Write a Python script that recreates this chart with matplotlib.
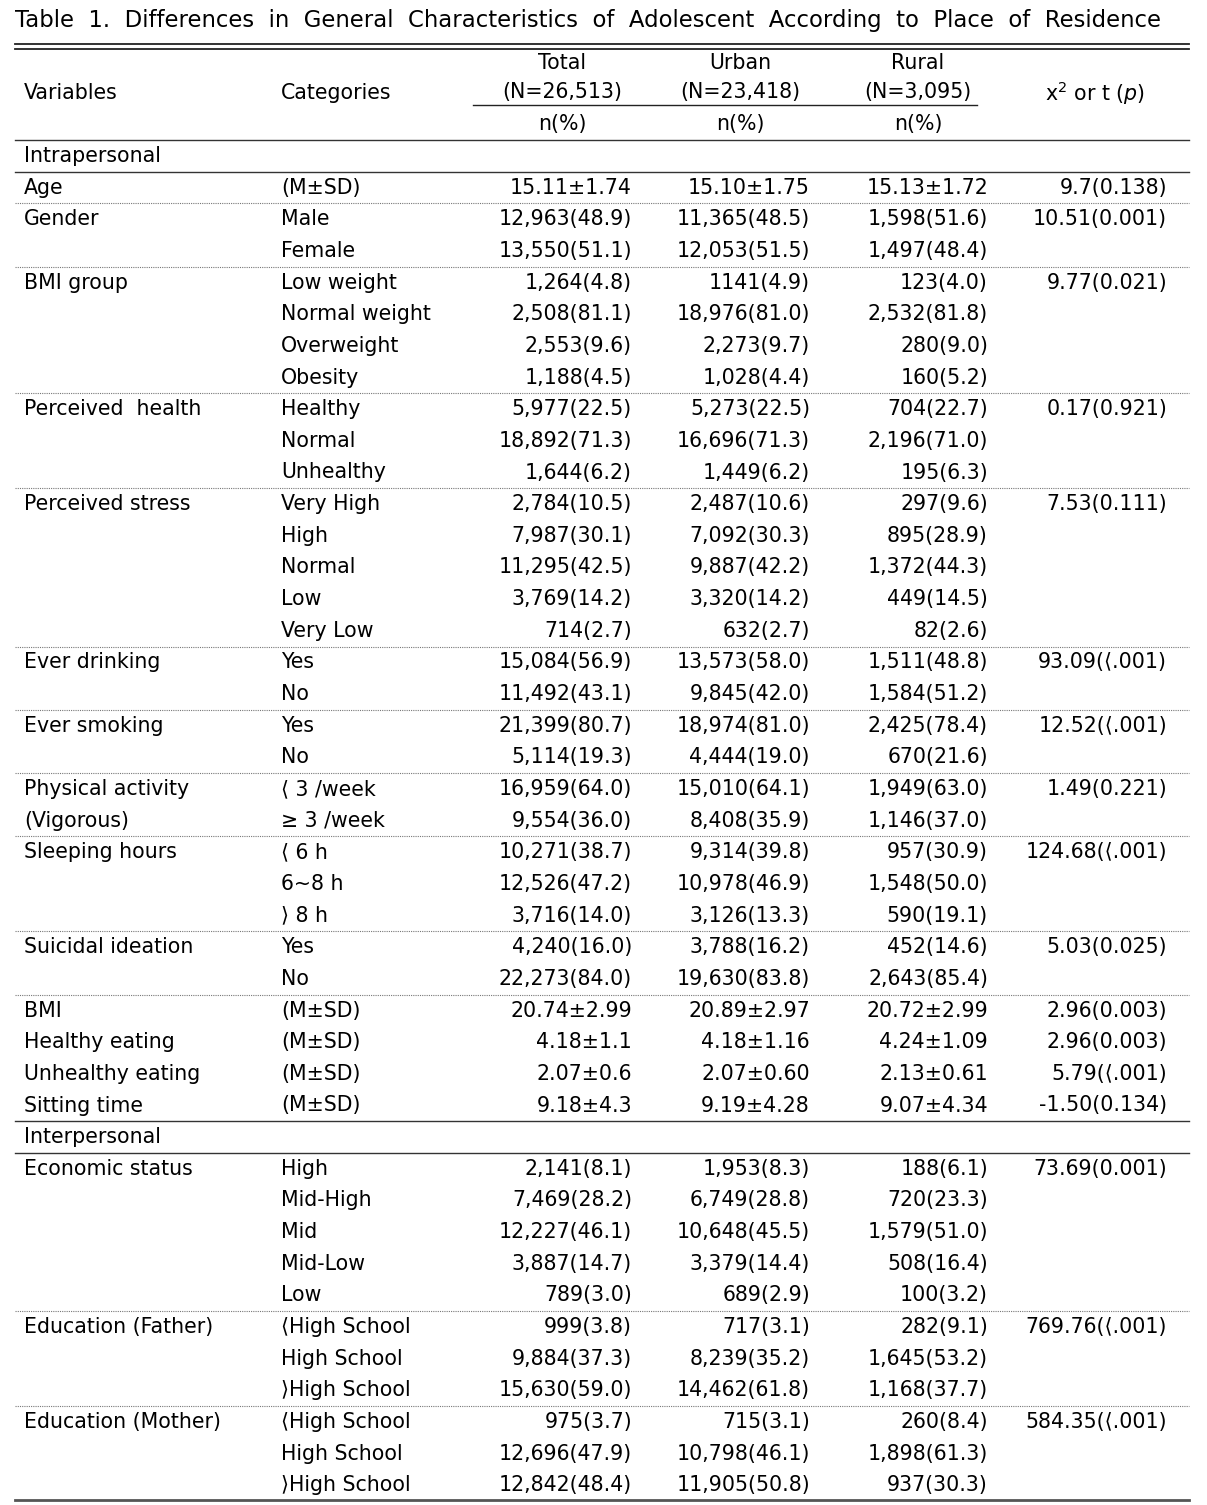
import matplotlib.pyplot as plt

#---------------------------------Datos------------------------------------
title = "Table 1. Differences in General Characteristics of Adolescent According to Place of Residence"
groups = ["Total", "Urban", "Rural"]
group_n = ["(N=26,513)", "(N=23,418)", "(N=3,095)"]

variables = ["Intrapersonal", "Age", "Gender", "", "BMI group", "", "", "",
             "Perceived  health", "", "", "Perceived stress", "", "", "", "",
             "Ever drinking", "", "Ever smoking", "", "Physical activity", "(Vigorous)",
             "Sleeping hours", "", "", "Suicidal ideation", "", "BMI", "Healthy eating",
             "Unhealthy eating", "Sitting time", "Interpersonal", "Economic status", "", "", "", "",
             "Education (Father)", "", "", "Education (Mother)", "", ""]
categories = ["", "(M±SD)", "Male", "Female", "Low weight", "Normal weight", "Overweight", "Obesity",
              "Healthy", "Normal", "Unhealthy", "Very High", "High", "Normal", "Low", "Very Low",
              "Yes", "No", "Yes", "No", "⟨ 3 /week", "≥ 3 /week",
              "⟨ 6 h", "6~8 h", "⟩ 8 h", "Yes", "No", "(M±SD)", "(M±SD)", "(M±SD)", "(M±SD)",
              "", "High", "Mid-High", "Mid", "Mid-Low", "Low",
              "⟨High School", "High School", "⟩High School", "⟨High School", "High School", "⟩High School"]
total = ["", "15.11±1.74", "12,963(48.9)", "13,550(51.1)", "1,264(4.8)", "2,508(81.1)", "2,553(9.6)", "1,188(4.5)",
         "5,977(22.5)", "18,892(71.3)", "1,644(6.2)", "2,784(10.5)", "7,987(30.1)", "11,295(42.5)", "3,769(14.2)", "714(2.7)",
         "15,084(56.9)", "11,492(43.1)", "21,399(80.7)", "5,114(19.3)", "16,959(64.0)", "9,554(36.0)",
         "10,271(38.7)", "12,526(47.2)", "3,716(14.0)", "4,240(16.0)", "22,273(84.0)",
         "20.74±2.99", "4.18±1.1", "2.07±0.6", "9.18±4.3",
         "", "2,141(8.1)", "7,469(28.2)", "12,227(46.1)", "3,887(14.7)", "789(3.0)",
         "999(3.8)", "9,884(37.3)", "15,630(59.0)", "975(3.7)", "12,696(47.9)", "12,842(48.4)"]
urban = ["", "15.10±1.75", "11,365(48.5)", "12,053(51.5)", "1141(4.9)", "18,976(81.0)", "2,273(9.7)", "1,028(4.4)",
         "5,273(22.5)", "16,696(71.3)", "1,449(6.2)", "2,487(10.6)", "7,092(30.3)", "9,887(42.2)", "3,320(14.2)", "632(2.7)",
         "13,573(58.0)", "9,845(42.0)", "18,974(81.0)", "4,444(19.0)", "15,010(64.1)", "8,408(35.9)",
         "9,314(39.8)", "10,978(46.9)", "3,126(13.3)", "3,788(16.2)", "19,630(83.8)",
         "20.89±2.97", "4.18±1.16", "2.07±0.60", "9.19±4.28",
         "", "1,953(8.3)", "6,749(28.8)", "10,648(45.5)", "3,379(14.4)", "689(2.9)",
         "717(3.1)", "8,239(35.2)", "14,462(61.8)", "715(3.1)", "10,798(46.1)", "11,905(50.8)"]
rural = ["", "15.13±1.72", "1,598(51.6)", "1,497(48.4)", "123(4.0)", "2,532(81.8)", "280(9.0)", "160(5.2)",
         "704(22.7)", "2,196(71.0)", "195(6.3)", "297(9.6)", "895(28.9)", "1,372(44.3)", "449(14.5)", "82(2.6)",
         "1,511(48.8)", "1,584(51.2)", "2,425(78.4)", "670(21.6)", "1,949(63.0)", "1,146(37.0)",
         "957(30.9)", "1,548(50.0)", "590(19.1)", "452(14.6)", "2,643(85.4)",
         "20.72±2.99", "4.24±1.09", "2.13±0.61", "9.07±4.34",
         "", "188(6.1)", "720(23.3)", "1,579(51.0)", "508(16.4)", "100(3.2)",
         "282(9.1)", "1,645(53.2)", "1,168(37.7)", "260(8.4)", "1,898(61.3)", "937(30.3)"]
stat = ["", "9.7(0.138)", "10.51(0.001)", "", "9.77(0.021)", "", "", "",
        "0.17(0.921)", "", "", "7.53(0.111)", "", "", "", "",
        "93.09(⟨.001)", "", "12.52(⟨.001)", "", "1.49(0.221)", "",
        "124.68(⟨.001)", "", "", "5.03(0.025)", "",
        "2.96(0.003)", "2.96(0.003)", "5.79(⟨.001)", "-1.50(0.134)",
        "", "73.69(0.001)", "", "", "", "",
        "769.76(⟨.001)", "", "", "584.35(⟨.001)", "", ""]
# lineas despues de cada fila
solid_after = [0, 30, 31]
dotted_after = [1, 3, 7, 10, 15, 17, 19, 21, 24, 26, 36, 39]
#-------------------------------------------------------------------------

plt.rcParams['font.family'] = ['DejaVu Sans', 'Noto Sans CJK KR']
fs = 14.8
W, H = 1207, 1505
fig = plt.figure(figsize=(W / 100, H / 100), dpi=100)
ax = fig.add_axes([0, 0, 1, 1])
ax.set_xlim(0, W)
ax.set_ylim(H, 0)
ax.axis('off')

x0, x1 = 15, 1189
y_top = 156
pitch = 31.65
col_right = [632, 810, 988]
col_center = [562, 740, 918]

# titulo con espacios dobles (el original tiene letras mas separadas)
ax.text(x0, 20, title.replace(" ", "  "), fontsize=16.4, va='center', ha='left')
ax.plot([x0, x1], [44, 44], c='#222222', lw=1.3)
ax.plot([x0, x1], [48.5, 48.5], c='#222222', lw=1.3)

# encabezado
ax.text(24, 93, "Variables", fontsize=fs, va='center')
ax.text(281, 93, "Categories", fontsize=fs, va='center')
for g, n, xc in zip(groups, group_n, col_center):
    ax.text(xc, 63, g, fontsize=fs, va='center', ha='center')
    ax.text(xc, 92, n, fontsize=fs, va='center', ha='center')
    ax.text(xc, 124, "n(%)", fontsize=fs, va='center', ha='center')
ax.plot([473, 977], [105, 105], c='#222222', lw=1)
ax.text(1095, 93, "x$^2$ or t ($\\it{p}$)", fontsize=fs, va='center', ha='center')
ax.plot([x0, x1], [140, 140], c='#333333', lw=1)

# filas
for i in range(len(variables)):
    y = y_top + pitch * i
    ax.text(24, y, variables[i], fontsize=fs, va='center', ha='left')
    ax.text(281, y, categories[i], fontsize=fs, va='center', ha='left')
    for vals, xr in zip([total, urban, rural], col_right):
        ax.text(xr, y, vals[i], fontsize=fs, va='center', ha='right')
    ax.text(1167, y, stat[i], fontsize=fs, va='center', ha='right')
    yl = y + pitch / 2
    if i in solid_after:
        ax.plot([x0, x1], [yl, yl], c='#333333', lw=1)
    if i in dotted_after:
        ax.plot([x0, x1], [yl, yl], c='#777777', lw=0.8, linestyle=(0, (1, 1)))

ax.plot([x0, x1], [1500, 1500], c='#555555', lw=2)

plt.savefig('out.png', dpi=100)
